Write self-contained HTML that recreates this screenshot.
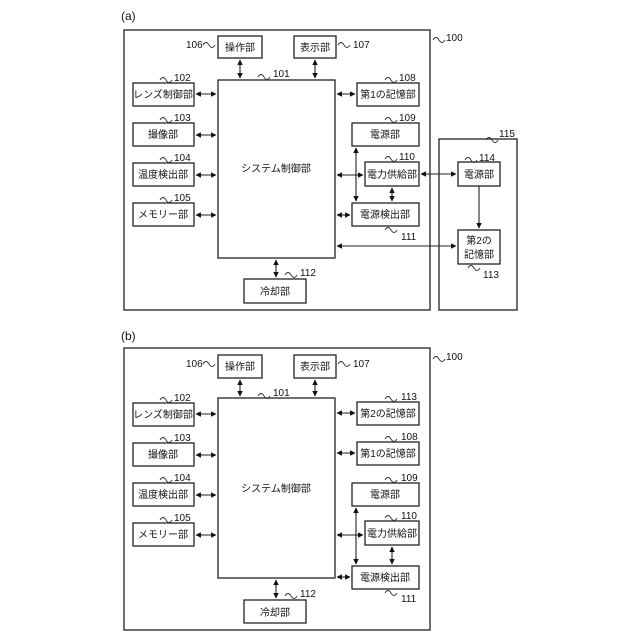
<!DOCTYPE html>
<html><head><meta charset="utf-8"><style>
html,body{margin:0;padding:0;background:#fff;}
svg{display:block;}
text{font-family:"Liberation Sans","Noto Sans CJK JP",sans-serif;font-size:10px;fill:#111;}
.b{fill:#fff;stroke:#222;stroke-width:1.3;}
.l{stroke:#222;stroke-width:1.1;fill:none;}
.w{stroke:#333;stroke-width:0.9;fill:none;}
</style></head><body>
<svg width="640" height="640" viewBox="0 0 640 640">
<defs>
<marker id="a" viewBox="0 0 10 10" refX="9" refY="5" markerWidth="5" markerHeight="5" orient="auto-start-reverse"><path d="M0,0L10,5L0,10z" fill="#111"/></marker>
</defs>

<!-- (a) -->
<text x="121" y="20" style="font-size:12px">(a)</text>
<rect class="b" x="124" y="30" width="306" height="280"/>
<path class="w" d="M433,40 q3,-5 6,0 t6,0"/><text x="446" y="41">100</text>
<rect class="b" x="439" y="139" width="78" height="171"/>
<path class="w" d="M486,140 q3,-5 6,0 t6,0"/><text x="499" y="137">115</text>

<rect class="b" x="218" y="80" width="117" height="178"/>
<text x="276" y="172" text-anchor="middle">システム制御部</text>
<path class="w" d="M258,77 q3,-5 6,0 t6,0"/><text x="273" y="77">101</text>

<rect class="b" x="218" y="36" width="44" height="22"/><text x="240" y="51" text-anchor="middle">操作部</text>
<path class="w" d="M203,45 q3,-5 6,0 t6,0"/><text x="186" y="48">106</text>
<rect class="b" x="294" y="36" width="42" height="22"/><text x="315" y="51" text-anchor="middle">表示部</text>
<path class="w" d="M338,45 q3,-5 6,0 t6,0"/><text x="353" y="48">107</text>
<line class="l" x1="240" y1="60" x2="240" y2="78" marker-start="url(#a)" marker-end="url(#a)"/>
<line class="l" x1="315" y1="60" x2="315" y2="78" marker-start="url(#a)" marker-end="url(#a)"/>

<rect class="b" x="133" y="83" width="61" height="23"/><text x="163" y="98" text-anchor="middle">レンズ制御部</text>
<rect class="b" x="133" y="123" width="61" height="23"/><text x="163" y="138" text-anchor="middle">撮像部</text>
<rect class="b" x="133" y="163" width="61" height="23"/><text x="163" y="178" text-anchor="middle">温度検出部</text>
<rect class="b" x="133" y="203" width="61" height="23"/><text x="163" y="218" text-anchor="middle">メモリー部</text>
<path class="w" d="M160,80 q3,-5 6,0 t6,0"/><text x="174" y="81">102</text>
<path class="w" d="M160,120 q3,-5 6,0 t6,0"/><text x="174" y="121">103</text>
<path class="w" d="M160,160 q3,-5 6,0 t6,0"/><text x="174" y="161">104</text>
<path class="w" d="M160,200 q3,-5 6,0 t6,0"/><text x="174" y="201">105</text>
<line class="l" x1="196" y1="94" x2="216" y2="94" marker-start="url(#a)" marker-end="url(#a)"/>
<line class="l" x1="196" y1="135" x2="216" y2="135" marker-start="url(#a)" marker-end="url(#a)"/>
<line class="l" x1="196" y1="175" x2="216" y2="175" marker-start="url(#a)" marker-end="url(#a)"/>
<line class="l" x1="196" y1="215" x2="216" y2="215" marker-start="url(#a)" marker-end="url(#a)"/>

<rect class="b" x="357" y="83" width="62" height="23"/><text x="388" y="98" text-anchor="middle">第1の記憶部</text>
<path class="w" d="M385,80 q3,-5 6,0 t6,0"/><text x="399" y="81">108</text>
<line class="l" x1="337" y1="94" x2="355" y2="94" marker-start="url(#a)" marker-end="url(#a)"/>
<rect class="b" x="352" y="123" width="67" height="23"/><text x="385" y="138" text-anchor="middle">電源部</text>
<path class="w" d="M385,120 q3,-5 6,0 t6,0"/><text x="399" y="121">109</text>
<rect class="b" x="365" y="162" width="54" height="24"/><text x="392" y="178" text-anchor="middle">電力供給部</text>
<path class="w" d="M385,159 q3,-5 6,0 t6,0"/><text x="399" y="160">110</text>
<rect class="b" x="352" y="203" width="67" height="23"/><text x="385" y="218" text-anchor="middle">電源検出部</text>
<path class="w" d="M385,230 q3,-5 6,0 t6,0"/><text x="401" y="240">111</text>
<line class="l" x1="356" y1="148" x2="356" y2="201" marker-start="url(#a)" marker-end="url(#a)"/>
<line class="l" x1="392" y1="188" x2="392" y2="201" marker-start="url(#a)" marker-end="url(#a)"/>
<line class="l" x1="337" y1="175" x2="363" y2="175" marker-start="url(#a)" marker-end="url(#a)"/>
<line class="l" x1="337" y1="215" x2="350" y2="215" marker-start="url(#a)" marker-end="url(#a)"/>
<line class="l" x1="337" y1="246" x2="456" y2="246" marker-start="url(#a)" marker-end="url(#a)"/>
<line class="l" x1="421" y1="174" x2="456" y2="174" marker-start="url(#a)" marker-end="url(#a)"/>

<rect class="b" x="458" y="162" width="42" height="24"/><text x="479" y="178" text-anchor="middle">電源部</text>
<path class="w" d="M465,160 q3,-5 6,0 t6,0"/><text x="479" y="161">114</text>
<rect class="b" x="458" y="230" width="42" height="34"/><text x="479" y="244" text-anchor="middle">第2の</text><text x="479" y="258" text-anchor="middle">記憶部</text>
<path class="w" d="M468,268 q3,-5 6,0 t6,0"/><text x="483" y="278">113</text>
<line class="l" x1="479" y1="186" x2="479" y2="228" marker-end="url(#a)"/>

<line class="l" x1="276" y1="260" x2="276" y2="277" marker-start="url(#a)" marker-end="url(#a)"/>
<rect class="b" x="244" y="279" width="62" height="24"/><text x="275" y="295" text-anchor="middle">冷却部</text>
<path class="w" d="M285,275 q3,-5 6,0 t6,0"/><text x="300" y="276">112</text>

<!-- (b) -->
<text x="121" y="340" style="font-size:12px">(b)</text>
<rect class="b" x="124" y="348" width="306" height="282"/>
<path class="w" d="M433,359 q3,-5 6,0 t6,0"/><text x="446" y="360">100</text>

<rect class="b" x="218" y="398" width="117" height="180"/>
<text x="276" y="492" text-anchor="middle">システム制御部</text>
<path class="w" d="M258,396 q3,-5 6,0 t6,0"/><text x="273" y="396">101</text>

<rect class="b" x="218" y="355" width="44" height="23"/><text x="240" y="370" text-anchor="middle">操作部</text>
<path class="w" d="M203,364 q3,-5 6,0 t6,0"/><text x="186" y="367">106</text>
<rect class="b" x="294" y="355" width="42" height="23"/><text x="315" y="370" text-anchor="middle">表示部</text>
<path class="w" d="M338,364 q3,-5 6,0 t6,0"/><text x="353" y="367">107</text>
<line class="l" x1="240" y1="380" x2="240" y2="396" marker-start="url(#a)" marker-end="url(#a)"/>
<line class="l" x1="315" y1="380" x2="315" y2="396" marker-start="url(#a)" marker-end="url(#a)"/>

<rect class="b" x="133" y="403" width="61" height="23"/><text x="163" y="418" text-anchor="middle">レンズ制御部</text>
<rect class="b" x="133" y="443" width="61" height="23"/><text x="163" y="458" text-anchor="middle">撮像部</text>
<rect class="b" x="133" y="483" width="61" height="23"/><text x="163" y="498" text-anchor="middle">温度検出部</text>
<rect class="b" x="133" y="523" width="61" height="23"/><text x="163" y="538" text-anchor="middle">メモリー部</text>
<path class="w" d="M160,400 q3,-5 6,0 t6,0"/><text x="174" y="401">102</text>
<path class="w" d="M160,440 q3,-5 6,0 t6,0"/><text x="174" y="441">103</text>
<path class="w" d="M160,480 q3,-5 6,0 t6,0"/><text x="174" y="481">104</text>
<path class="w" d="M160,520 q3,-5 6,0 t6,0"/><text x="174" y="521">105</text>
<line class="l" x1="196" y1="414" x2="216" y2="414" marker-start="url(#a)" marker-end="url(#a)"/>
<line class="l" x1="196" y1="455" x2="216" y2="455" marker-start="url(#a)" marker-end="url(#a)"/>
<line class="l" x1="196" y1="495" x2="216" y2="495" marker-start="url(#a)" marker-end="url(#a)"/>
<line class="l" x1="196" y1="535" x2="216" y2="535" marker-start="url(#a)" marker-end="url(#a)"/>

<rect class="b" x="357" y="402" width="62" height="23"/><text x="388" y="417" text-anchor="middle">第2の記憶部</text>
<path class="w" d="M385,399 q3,-5 6,0 t6,0"/><text x="401" y="400">113</text>
<line class="l" x1="337" y1="413" x2="355" y2="413" marker-start="url(#a)" marker-end="url(#a)"/>
<rect class="b" x="357" y="442" width="62" height="23"/><text x="388" y="457" text-anchor="middle">第1の記憶部</text>
<path class="w" d="M385,439 q3,-5 6,0 t6,0"/><text x="401" y="440">108</text>
<line class="l" x1="337" y1="453" x2="355" y2="453" marker-start="url(#a)" marker-end="url(#a)"/>
<rect class="b" x="352" y="483" width="67" height="23"/><text x="385" y="498" text-anchor="middle">電源部</text>
<path class="w" d="M385,480 q3,-5 6,0 t6,0"/><text x="401" y="481">109</text>
<rect class="b" x="365" y="521" width="54" height="24"/><text x="392" y="537" text-anchor="middle">電力供給部</text>
<path class="w" d="M385,518 q3,-5 6,0 t6,0"/><text x="401" y="519">110</text>
<rect class="b" x="352" y="566" width="67" height="23"/><text x="385" y="581" text-anchor="middle">電源検出部</text>
<path class="w" d="M385,593 q3,-5 6,0 t6,0"/><text x="401" y="602">111</text>
<line class="l" x1="356" y1="508" x2="356" y2="564" marker-start="url(#a)" marker-end="url(#a)"/>
<line class="l" x1="392" y1="547" x2="392" y2="564" marker-start="url(#a)" marker-end="url(#a)"/>
<line class="l" x1="337" y1="535" x2="363" y2="535" marker-start="url(#a)" marker-end="url(#a)"/>
<line class="l" x1="337" y1="577" x2="350" y2="577" marker-start="url(#a)" marker-end="url(#a)"/>

<line class="l" x1="276" y1="580" x2="276" y2="598" marker-start="url(#a)" marker-end="url(#a)"/>
<rect class="b" x="244" y="600" width="62" height="23"/><text x="275" y="616" text-anchor="middle">冷却部</text>
<path class="w" d="M285,596 q3,-5 6,0 t6,0"/><text x="300" y="597">112</text>
</svg>
</body></html>
